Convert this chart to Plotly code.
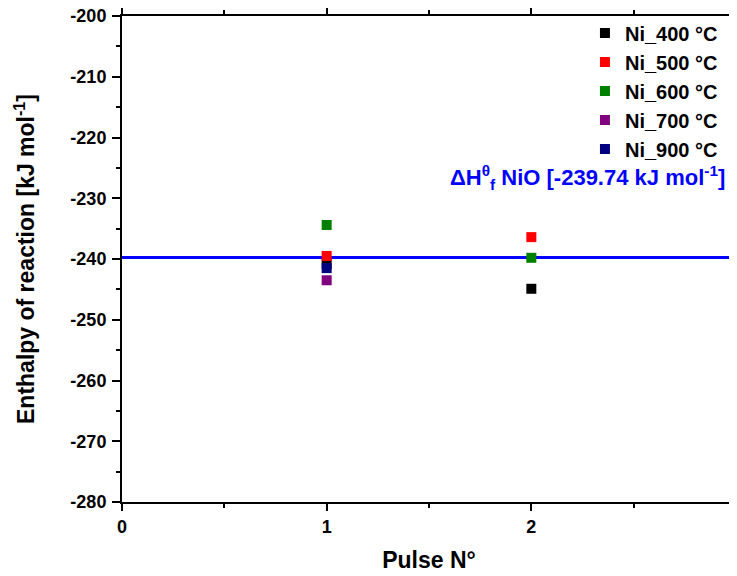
import plotly.graph_objects as go

series_names = ["Ni_400 °C", "Ni_500 °C", "Ni_600 °C", "Ni_700 °C", "Ni_900 °C"]
series_colors = ["#000000", "#ff0000", "#008000", "#800080", "#000080"]
pulses = {
    "Ni_400 °C": [1, 2],
    "Ni_500 °C": [1, 2],
    "Ni_600 °C": [1, 2],
    "Ni_700 °C": [1],
    "Ni_900 °C": [1],
}
enthalpies = {
    "Ni_400 °C": [-240.8, -244.9],
    "Ni_500 °C": [-239.5, -236.4],
    "Ni_600 °C": [-234.4, -239.8],
    "Ni_700 °C": [-243.5],
    "Ni_900 °C": [-241.5],
}
ref_x = [0, 3]
ref_value = -239.74
x_ticks = [0, 1, 2, 3]
x_ticklabels = ["0", "1", "2", "3"]
y_ticks = list(range(-280, -199, 10))
y_ticklabels = [str(v) for v in y_ticks]

FONT = "Liberation Sans, Arial, sans-serif"

fig = go.Figure()
fig.add_trace(go.Scatter(
    x=ref_x, y=[ref_value, ref_value], mode="lines",
    line=dict(color="#0000ff", width=3), showlegend=False, hoverinfo="skip"))

for i, (name, col) in enumerate(zip(series_names, series_colors)):
    fig.add_trace(go.Scatter(
        x=pulses[name], y=enthalpies[name], mode="markers", name=f"<b>{name}</b>",
        marker=dict(symbol="square", size=10, color=col, line=dict(width=0)),
    ))

axis_common = dict(
    showline=True, linecolor="black", linewidth=2, mirror="allticks",
    ticks="outside", tickcolor="black", tickwidth=2,
    showgrid=False, zeroline=False, automargin=False,
    ticklabeloverflow="allow",
    tickfont=dict(family=FONT, size=18, color="black"),
)

fig.update_xaxes(
    range=[0, 3], tickvals=x_ticks, ticktext=[f"<b>{t}</b>" for t in x_ticklabels],
    ticklen=7, ticklabelstandoff=0,
    minor=dict(dtick=0.5, ticks="outside", ticklen=4, tickcolor="black", tickwidth=2),
    title=dict(text="<b>Pulse N°</b>", font=dict(family=FONT, size=23, color="black"), standoff=16),
    **axis_common,
)
fig.update_yaxes(
    range=[-280, -200], tickvals=y_ticks, ticktext=[f"<b>{t}</b>" for t in y_ticklabels],
    ticklen=8, ticklabelstandoff=2,
    minor=dict(dtick=5, ticks="outside", ticklen=4, tickcolor="black", tickwidth=2),
    title=dict(text="<b>Enthalpy of reaction [kJ mol<sup>-1</sup>]</b>",
               font=dict(family=FONT, size=23, color="black"), standoff=29),
    **axis_common,
)

fig.add_annotation(
    xref="paper", yref="paper", x=0.986, y=0.667, xanchor="right", yanchor="middle",
    text="<b>ΔH<sup>θ</sup><sub>f</sub> NiO [-239.74 kJ mol<sup>-1</sup>]</b>",
    showarrow=False, font=dict(family=FONT, size=22, color="#0000ff"),
)

fig.update_layout(
    width=729, height=568,
    margin=dict(l=114, r=1, t=8, b=74),
    plot_bgcolor="white", paper_bgcolor="white",
    legend=dict(
        x=0.754, y=1.005, xanchor="left", yanchor="top",
        font=dict(family=FONT, size=20, color="black"),
        bgcolor="rgba(0,0,0,0)", itemwidth=30,
    ),
    showlegend=True,
)

fig.write_html("out.html")
